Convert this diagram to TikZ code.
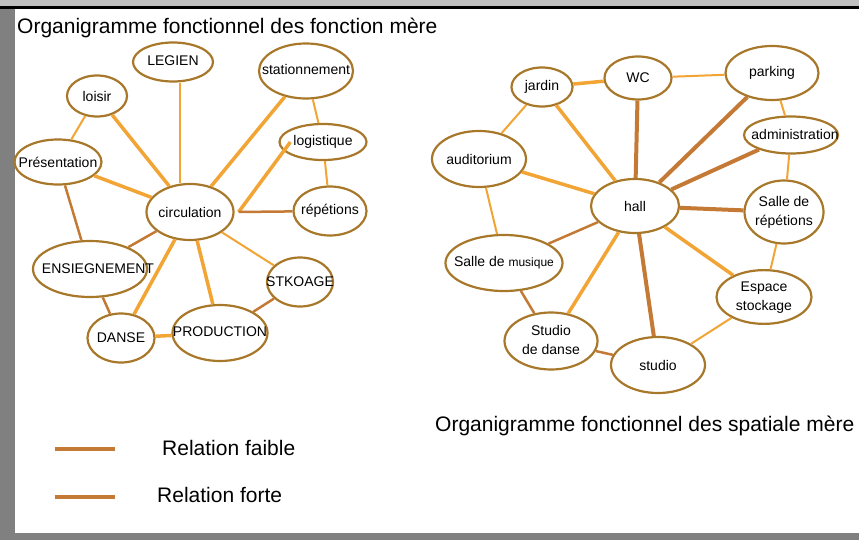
\documentclass[tikz,border=0pt]{standalone}
\usepackage{fontspec}
\setmainfont{Liberation Sans}
\usetikzlibrary{shapes.geometric}
\definecolor{faible}{HTML}{F2A535}
\definecolor{forte}{HTML}{C47A35}
\definecolor{bord}{HTML}{A8782A}
\definecolor{grisclair}{HTML}{C0C0C0}
\definecolor{grisfonce}{HTML}{808080}

\begin{document}
\begin{tikzpicture}[x=1pt,y=-1pt,bulle/.style={ellipse,draw=bord,line width=2.2pt,fill=white,inner sep=0pt,font=\fontsize{14}{19}\selectfont},faib/.style={draw=faible,line width=2pt},faibplus/.style={draw=faible,line width=3.5pt},fort/.style={draw=forte,line width=2.5pt},fortplus/.style={draw=forte,line width=4pt}]
\tikzstyle{titre} = [font=\fontsize{21}{24}\selectfont,inner sep=0pt]

% frame
\useasboundingbox (0,0) rectangle (859,540);
\fill[white] (0,0) rectangle (859,540);
\fill[grisclair] (0,0) rectangle (859,6);
\fill[black] (0,6) rectangle (859,9);
\fill[grisfonce] (0,9) rectangle (15,540);
\fill[grisfonce] (0,533) rectangle (859,540);

\node[titre,anchor=base west] (titre1) at (17,34) {Organigramme fonctionnel des fonction mère};
\node[titre,anchor=base west] (titre2) at (435,431) {Organigramme fonctionnel des spatiale mère};

% fonctions
\node[bulle,minimum width=80,minimum height=39] (legien) at (173,62) {\makebox[0pt]{\raisebox{2pt}{LEGIEN}}};
\node[bulle,minimum width=60,minimum height=41] (loisir) at (97,96) {\makebox[0pt]{loisir}};
\node[bulle,minimum width=94,minimum height=55] (station) at (306,71) {\makebox[0pt]{\raisebox{3pt}{stationnement}}};
\node[bulle,minimum width=87,minimum height=36] (logist) at (323,142) {\makebox[0pt]{logistique}};
\node[bulle,minimum width=87,minimum height=45] (present) at (58,162) {\makebox[0pt]{Présentation}};
\node[bulle,minimum width=87,minimum height=56] (circ) at (190,212) {\makebox[0pt]{circulation}};
\node[bulle,minimum width=73,minimum height=49] (repet) at (330,211) {\makebox[0pt]{répétions}};
\node[bulle,minimum width=114,minimum height=56] (ensei) at (90,269) {\makebox[0pt]{\hspace{16pt}ENSIEGNEMENT}};
\node[bulle,minimum width=66,minimum height=49] (stock) at (300,282) {\makebox[0pt]{STKOAGE}};
\node[bulle,minimum width=67,minimum height=49] (danse) at (121,338) {\makebox[0pt]{DANSE}};
\node[bulle,minimum width=95,minimum height=56] (prod) at (220,333) {\makebox[0pt]{\raisebox{2pt}{PRODUCTION}}};

\draw[faib] (loisir) -- (present);
\draw[faibplus] (loisir) -- (circ);
\draw[faib] ([xshift=7pt]legien.south) -- ([xshift=-10pt]circ.north);
\draw[faibplus] (station) -- (circ);
\draw[faib] (station) -- (logist);
\draw[faibplus] ([xshift=4pt]circ.east) -- ([xshift=12pt]logist.west);
\draw[fort] ([xshift=4pt]circ.east) -- (repet);
\draw[faib] (logist) -- (repet);
\draw[faibplus] (present) -- (circ);
\draw[fort] (present) -- (ensei);
\draw[fort] (circ) -- (ensei);
\draw[faibplus] (circ) -- (danse);
\draw[faibplus] (circ) -- (prod);
\draw[faib] (circ) -- (stock);
\draw[fort] (ensei) -- (danse);
\draw[faibplus] (danse) -- (prod);
\draw[fort] (stock) -- (prod);

% espaces
\node[bulle,minimum width=61,minimum height=39] (jardin) at (542,87) {\makebox[0pt]{jardin}};
\node[bulle,minimum width=67,minimum height=43] (wc) at (638,78) {\makebox[0pt]{WC}};
\node[bulle,minimum width=93,minimum height=54] (parking) at (772,73) {\makebox[0pt]{\raisebox{4pt}{parking}}};
\node[bulle,minimum width=94,minimum height=37] (admin) at (791,135) {\makebox[0pt]{\hspace{8pt}\raisebox{2pt}{administration}}};
\node[bulle,minimum width=94,minimum height=56] (audit) at (479,159) {\makebox[0pt]{auditorium}};
\node[bulle,minimum width=88,minimum height=54] (hall) at (635,206) {\makebox[0pt]{\raisebox{-3pt}{hall}}};
\node[bulle,minimum width=79,minimum height=63] (salrep) at (784,212) {\makebox[0pt]{\begin{tabular}{@{}c@{}}Salle de\\répétions\end{tabular}}};
\node[bulle,minimum width=117,minimum height=56] (musique) at (504,263) {\makebox[0pt]{Salle de {\fontsize{12}{14}\selectfont musique}}};
\node[bulle,minimum width=95,minimum height=49] (espace) at (764,297) {\makebox[0pt]{\begin{tabular}{@{}c@{}}Espace\\stockage\end{tabular}}};
\node[bulle,minimum width=93,minimum height=57] (stdanse) at (551,341) {\makebox[0pt]{\begin{tabular}{@{}c@{}}Studio\\de danse\end{tabular}}};
\node[bulle,minimum width=94,minimum height=56] (studio) at (658,365) {\makebox[0pt]{studio}};

\draw[faibplus] (jardin) -- (wc);
\draw[faib] (wc) -- (parking);
\draw[faib] (jardin) -- (audit);
\draw[faibplus] (jardin) -- (hall);
\draw[fortplus] (wc) -- (hall);
\draw[fortplus] (parking) -- (hall);
\draw[faib] (parking) -- (admin);
\draw[fortplus] (admin) -- (hall);
\draw[faib] (admin) -- (salrep);
\draw[fortplus] (hall) -- (salrep);
\draw[faibplus] (audit) -- (hall);
\draw[faib] (audit) -- (musique);
\draw[fort] (hall) -- (musique);
\draw[faibplus] (hall) -- (stdanse);
\draw[fortplus] (hall) -- (studio);
\draw[faibplus] (hall) -- (espace);
\draw[faib] (salrep) -- (espace);
\draw[fort] (musique) -- (stdanse);
\draw[fort] (stdanse) -- (studio);
\draw[faib] (espace) -- (studio);

% Legend
\draw[forte,line width=4pt] (55,449) -- (115,449);
\node[titre,anchor=base west] (faible) at (162,455) {Relation faible};
\draw[forte,line width=4pt] (55,497) -- (115,497);
\node[titre,anchor=base west] (forte) at (157,502) {Relation forte};

\end{tikzpicture}
\end{document}
